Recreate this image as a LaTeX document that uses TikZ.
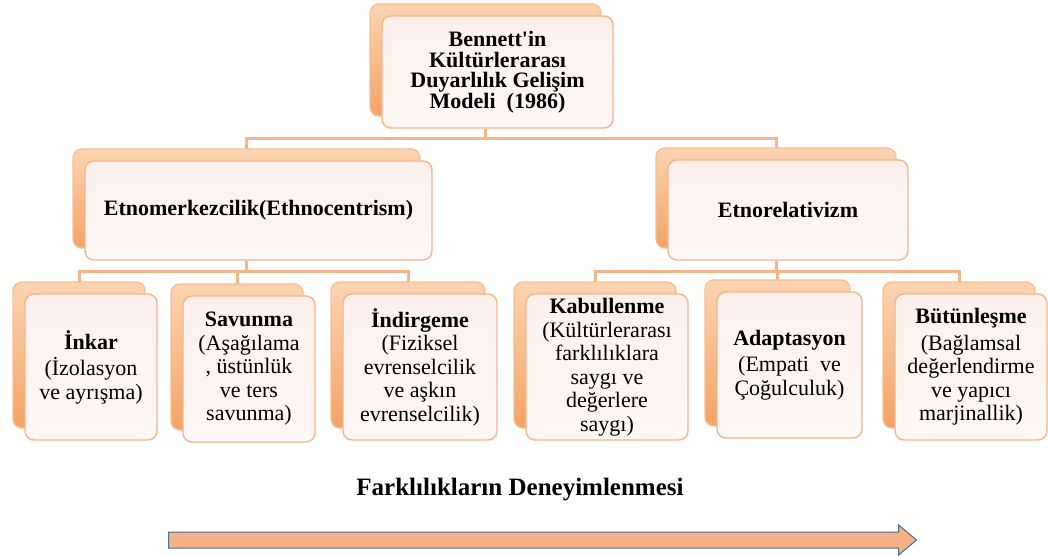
\documentclass[tikz,border=0pt]{standalone}
\usepackage{fontspec}
\setmainfont{Liberation Serif}
\usepackage{tikz}
\usetikzlibrary{backgrounds,shapes.arrows}
\definecolor{TuruncuCizgi}{RGB}{246,180,136}
\definecolor{TuruncuKoyu}{RGB}{243,163,100}
\definecolor{TuruncuAcik}{RGB}{251,212,178}
\definecolor{PembeKutu}{RGB}{252,240,237}
\definecolor{TuruncuOk}{RGB}{244,177,131}
\definecolor{MaviKenar}{RGB}{70,110,150}

\tikzset{
  kutu/.style={draw=TuruncuCizgi, line width=1.4pt, rounded corners=9pt,
    top color=PembeKutu, bottom color=white!50!PembeKutu,
    align=center, inner sep=2pt, minimum height=146pt,
    font=\fontsize{22}{23.5}\selectfont,
    preaction={draw=TuruncuKoyu!70, top color=TuruncuAcik, bottom color=TuruncuKoyu,
      transform canvas={xshift=-12pt,yshift=12pt}}},
  baglanti/.style={TuruncuCizgi, line width=3pt}
}

\begin{document}
\begin{tikzpicture}[x=1pt, y=-1pt]
    \useasboundingbox (0,0) rectangle (1048,556);

    \node[kutu, minimum width=231pt, minimum height=112pt,
          font=\bfseries\fontsize{22}{20.5}\selectfont] (model) at (497.5,72)
        {Bennett\textquotesingle in\\Kültürlerarası\\Duyarlılık Gelişim\\Modeli\ \ (1986)};

    \node[kutu, minimum width=347pt, minimum height=99pt, font=\bfseries\fontsize{22}{23}\selectfont]
        (etno) at (258.5,210.5) {Etnomerkezcilik(Ethnocentrism)};
    \node[kutu, minimum width=240pt, minimum height=100pt, font=\bfseries\fontsize{22}{23}\selectfont]
        (rel) at (788,210) {Etnorelativizm};

    \node[kutu, minimum width=132pt] (inkar) at (91,367)
        {\textbf{İnkar}\\[3pt](İzolasyon\\ve ayrışma)};
    \node[kutu, minimum width=132pt] (savunma) at (249,369)
        {\textbf{Savunma}\\(Aşağılama\\, üstünlük\\ve ters\\savunma)};
    \node[kutu, minimum width=154pt] (indirgeme) at (420,367)
        {\textbf{İndirgeme}\\(Fiziksel\\evrenselcilik\\ve aşkın\\evrenselcilik)};
    \node[kutu, minimum width=162pt] (kabul) at (607,367)
        {\textbf{Kabullenme}\\(Kültürlerarası\\farklılıklara\\saygı ve\\değerlere\\saygı)};
    \node[kutu, minimum width=145pt] (adapt) at (789.5,365)
        {\textbf{Adaptasyon}\\[3pt](Empati\ \ ve\\Çoğulculuk)};
    \node[kutu, minimum width=152pt] (butun) at (971,367)
        {\textbf{Bütünleşme}\\[3pt](Bağlamsal\\değerlendirme\\ve yapıcı\\marjinallik)};

    \begin{scope}[on background layer]
        \draw[baglanti] ([xshift=-12pt]model.south) -- ++(0,10) -| ([xshift=-12pt]etno.north);
        \draw[baglanti] ([xshift=-12pt]model.south) -- ++(0,10) -| ([xshift=-12pt]rel.north);
        \foreach \alt in {inkar,savunma,indirgeme}
            \draw[baglanti] ([xshift=-12pt]etno.south) -- ++(0,11) -| ([xshift=-12pt]\alt.north);
        \foreach \alt in {kabul,adapt,butun}
            \draw[baglanti] ([xshift=-12pt]rel.south) -- ++(0,11) -| ([xshift=-12pt]\alt.north);
    \end{scope}

    \node[font=\bfseries\fontsize{25}{27}\selectfont] (deney) at (520,490)
        {Farklılıkların Deneyimlenmesi};

    \node[single arrow, draw=MaviKenar, line width=1pt, fill=TuruncuOk,
          minimum height=748pt, minimum width=28pt, inner xsep=0pt, inner ysep=7.5pt,
          single arrow tip angle=80, single arrow head extend=7pt, anchor=west]
        (ok) at (168,540) {};
\end{tikzpicture}
\end{document}
